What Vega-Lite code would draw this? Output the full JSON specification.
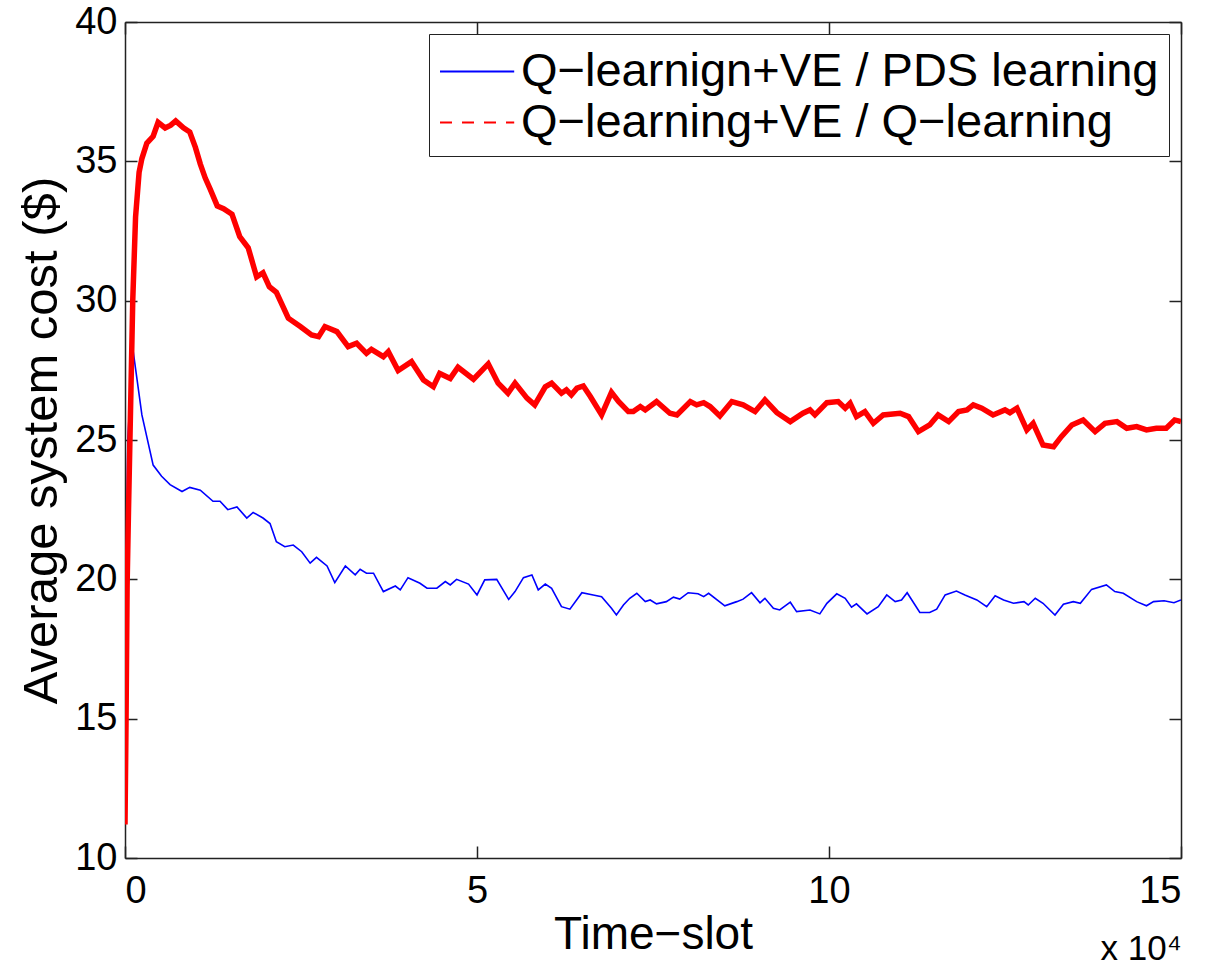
{
  "$schema": "https://vega.github.io/schema/vega-lite/v6.json",
  "width": 1056,
  "height": 836,
  "autosize": {"type": "none"},
  "padding": {"left": 125, "top": 22, "right": 26, "bottom": 108},
  "background": "white",
  "config": {
    "font": "Liberation Sans",
    "view": {"stroke": null},
    "axis": {"grid": false, "labelFont": "Liberation Sans", "titleFont": "Liberation Sans", "labelColor": "black", "titleColor": "black", "domainColor": "#222", "tickColor": "#222", "domainWidth": 1.5, "tickWidth": 1.5, "titleFontWeight": "normal"},
    "legend": {"labelFont": "Liberation Sans"}
  },
  "title": {"text": "x 10⁴", "orient": "bottom", "anchor": "end", "fontSize": 35, "fontWeight": "normal", "font": "Liberation Sans", "color": "black", "offset": -25},
  "data": {"name": "d", "values": [
    {"series":"blue","t":0,"cost":16},{"series":"blue","t":0.04,"cost":25},{"series":"blue","t":0.11,"cost":28.3},{"series":"blue","t":0.24,"cost":25.9},{"series":"blue","t":0.40,"cost":24.1},{"series":"blue","t":0.52,"cost":23.7},{"series":"blue","t":0.64,"cost":23.4},{"series":"blue","t":0.81,"cost":23.15},{"series":"blue","t":0.92,"cost":23.3},{"series":"blue","t":1.07,"cost":23.2},{"series":"blue","t":1.25,"cost":22.8},{"series":"blue","t":1.35,"cost":22.8},{"series":"blue","t":1.46,"cost":22.5},{"series":"blue","t":1.59,"cost":22.6},{"series":"blue","t":1.73,"cost":22.2},{"series":"blue","t":1.82,"cost":22.4},{"series":"blue","t":1.96,"cost":22.2},{"series":"blue","t":2.06,"cost":22.0},{"series":"blue","t":2.15,"cost":21.35},{"series":"blue","t":2.27,"cost":21.17},{"series":"blue","t":2.39,"cost":21.23},{"series":"blue","t":2.51,"cost":20.99},{"series":"blue","t":2.63,"cost":20.58},{"series":"blue","t":2.72,"cost":20.79},{"series":"blue","t":2.87,"cost":20.48},{"series":"blue","t":2.98,"cost":19.88},{"series":"blue","t":3.13,"cost":20.48},{"series":"blue","t":3.27,"cost":20.16},{"series":"blue","t":3.34,"cost":20.36},{"series":"blue","t":3.43,"cost":20.22},{"series":"blue","t":3.53,"cost":20.22},{"series":"blue","t":3.67,"cost":19.56},{"series":"blue","t":3.84,"cost":19.76},{"series":"blue","t":3.91,"cost":19.62},{"series":"blue","t":4.02,"cost":20.06},{"series":"blue","t":4.19,"cost":19.86},{"series":"blue","t":4.29,"cost":19.68},{"series":"blue","t":4.43,"cost":19.68},{"series":"blue","t":4.55,"cost":19.92},{"series":"blue","t":4.62,"cost":19.80},{"series":"blue","t":4.71,"cost":20.00},{"series":"blue","t":4.88,"cost":19.83},{"series":"blue","t":5.00,"cost":19.44},{"series":"blue","t":5.11,"cost":19.98},{"series":"blue","t":5.28,"cost":20.00},{"series":"blue","t":5.45,"cost":19.28},{"series":"blue","t":5.54,"cost":19.56},{"series":"blue","t":5.66,"cost":20.06},{"series":"blue","t":5.78,"cost":20.16},{"series":"blue","t":5.87,"cost":19.62},{"series":"blue","t":5.97,"cost":19.83},{"series":"blue","t":6.06,"cost":19.68},{"series":"blue","t":6.20,"cost":19.02},{"series":"blue","t":6.32,"cost":18.93},{"series":"blue","t":6.49,"cost":19.52},{"series":"blue","t":6.65,"cost":19.44},{"series":"blue","t":6.77,"cost":19.38},{"series":"blue","t":6.91,"cost":18.96},{"series":"blue","t":6.98,"cost":18.72},{"series":"blue","t":7.08,"cost":19.08},{"series":"blue","t":7.17,"cost":19.32},{"series":"blue","t":7.27,"cost":19.50},{"series":"blue","t":7.39,"cost":19.20},{"series":"blue","t":7.46,"cost":19.26},{"series":"blue","t":7.55,"cost":19.12},{"series":"blue","t":7.69,"cost":19.20},{"series":"blue","t":7.79,"cost":19.36},{"series":"blue","t":7.88,"cost":19.29},{"series":"blue","t":8.00,"cost":19.52},{"series":"blue","t":8.14,"cost":19.48},{"series":"blue","t":8.22,"cost":19.38},{"series":"blue","t":8.29,"cost":19.50},{"series":"blue","t":8.52,"cost":19.05},{"series":"blue","t":8.69,"cost":19.20},{"series":"blue","t":8.78,"cost":19.29},{"series":"blue","t":8.90,"cost":19.52},{"series":"blue","t":9.02,"cost":19.16},{"series":"blue","t":9.09,"cost":19.32},{"series":"blue","t":9.21,"cost":18.96},{"series":"blue","t":9.30,"cost":18.90},{"series":"blue","t":9.45,"cost":19.18},{"series":"blue","t":9.54,"cost":18.84},{"series":"blue","t":9.73,"cost":18.90},{"series":"blue","t":9.87,"cost":18.76},{"series":"blue","t":9.97,"cost":19.14},{"series":"blue","t":10.11,"cost":19.48},{"series":"blue","t":10.23,"cost":19.32},{"series":"blue","t":10.32,"cost":19.00},{"series":"blue","t":10.39,"cost":19.12},{"series":"blue","t":10.54,"cost":18.76},{"series":"blue","t":10.70,"cost":19.02},{"series":"blue","t":10.82,"cost":19.44},{"series":"blue","t":10.94,"cost":19.20},{"series":"blue","t":11.03,"cost":19.26},{"series":"blue","t":11.11,"cost":19.52},{"series":"blue","t":11.29,"cost":18.81},{"series":"blue","t":11.43,"cost":18.81},{"series":"blue","t":11.53,"cost":18.93},{"series":"blue","t":11.65,"cost":19.44},{"series":"blue","t":11.81,"cost":19.58},{"series":"blue","t":11.93,"cost":19.44},{"series":"blue","t":12.10,"cost":19.26},{"series":"blue","t":12.24,"cost":19.02},{"series":"blue","t":12.36,"cost":19.41},{"series":"blue","t":12.48,"cost":19.26},{"series":"blue","t":12.62,"cost":19.14},{"series":"blue","t":12.77,"cost":19.20},{"series":"blue","t":12.83,"cost":19.08},{"series":"blue","t":12.93,"cost":19.32},{"series":"blue","t":13.04,"cost":19.14},{"series":"blue","t":13.21,"cost":18.72},{"series":"blue","t":13.33,"cost":19.11},{"series":"blue","t":13.47,"cost":19.20},{"series":"blue","t":13.57,"cost":19.14},{"series":"blue","t":13.73,"cost":19.64},{"series":"blue","t":13.94,"cost":19.80},{"series":"blue","t":14.06,"cost":19.56},{"series":"blue","t":14.18,"cost":19.50},{"series":"blue","t":14.37,"cost":19.20},{"series":"blue","t":14.51,"cost":19.05},{"series":"blue","t":14.61,"cost":19.20},{"series":"blue","t":14.76,"cost":19.23},{"series":"blue","t":14.90,"cost":19.16},{"series":"blue","t":15.0,"cost":19.26},
    {"series":"red","t":0,"cost":11.2},{"series":"red","t":0.015,"cost":15},{"series":"red","t":0.03,"cost":19.8},{"series":"red","t":0.05,"cost":22.5},{"series":"red","t":0.07,"cost":25},{"series":"red","t":0.09,"cost":27.5},{"series":"red","t":0.11,"cost":30},{"series":"red","t":0.15,"cost":33},{"series":"red","t":0.2,"cost":34.6},{"series":"red","t":0.24,"cost":35.1},{"series":"red","t":0.31,"cost":35.65},{"series":"red","t":0.40,"cost":35.9},{"series":"red","t":0.47,"cost":36.4},{"series":"red","t":0.57,"cost":36.2},{"series":"red","t":0.65,"cost":36.3},{"series":"red","t":0.72,"cost":36.45},{"series":"red","t":0.83,"cost":36.2},{"series":"red","t":0.92,"cost":36.05},{"series":"red","t":1.0,"cost":35.5},{"series":"red","t":1.07,"cost":34.9},{"series":"red","t":1.14,"cost":34.4},{"series":"red","t":1.21,"cost":34.0},{"series":"red","t":1.31,"cost":33.4},{"series":"red","t":1.4,"cost":33.3},{"series":"red","t":1.52,"cost":33.1},{"series":"red","t":1.63,"cost":32.3},{"series":"red","t":1.75,"cost":31.9},{"series":"red","t":1.87,"cost":30.85},{"series":"red","t":1.96,"cost":31.0},{"series":"red","t":2.05,"cost":30.5},{"series":"red","t":2.15,"cost":30.3},{"series":"red","t":2.32,"cost":29.37},{"series":"red","t":2.49,"cost":29.07},{"series":"red","t":2.65,"cost":28.77},{"series":"red","t":2.75,"cost":28.71},{"series":"red","t":2.84,"cost":29.07},{"series":"red","t":3.01,"cost":28.89},{"series":"red","t":3.17,"cost":28.35},{"series":"red","t":3.29,"cost":28.47},{"series":"red","t":3.43,"cost":28.11},{"series":"red","t":3.50,"cost":28.25},{"series":"red","t":3.67,"cost":27.99},{"series":"red","t":3.74,"cost":28.17},{"series":"red","t":3.88,"cost":27.49},{"series":"red","t":4.07,"cost":27.81},{"series":"red","t":4.24,"cost":27.15},{"series":"red","t":4.38,"cost":26.91},{"series":"red","t":4.47,"cost":27.39},{"series":"red","t":4.62,"cost":27.21},{"series":"red","t":4.73,"cost":27.61},{"series":"red","t":4.95,"cost":27.18},{"series":"red","t":5.16,"cost":27.73},{"series":"red","t":5.30,"cost":27.04},{"series":"red","t":5.44,"cost":26.68},{"series":"red","t":5.54,"cost":27.04},{"series":"red","t":5.71,"cost":26.50},{"series":"red","t":5.82,"cost":26.26},{"series":"red","t":5.97,"cost":26.91},{"series":"red","t":6.06,"cost":27.04},{"series":"red","t":6.20,"cost":26.68},{"series":"red","t":6.27,"cost":26.80},{"series":"red","t":6.34,"cost":26.62},{"series":"red","t":6.42,"cost":26.86},{"series":"red","t":6.51,"cost":26.94},{"series":"red","t":6.61,"cost":26.56},{"series":"red","t":6.77,"cost":25.90},{"series":"red","t":6.91,"cost":26.71},{"series":"red","t":7.01,"cost":26.38},{"series":"red","t":7.15,"cost":26.02},{"series":"red","t":7.22,"cost":26.02},{"series":"red","t":7.32,"cost":26.20},{"series":"red","t":7.39,"cost":26.08},{"series":"red","t":7.55,"cost":26.38},{"series":"red","t":7.74,"cost":25.96},{"series":"red","t":7.84,"cost":25.90},{"series":"red","t":8.03,"cost":26.38},{"series":"red","t":8.12,"cost":26.26},{"series":"red","t":8.22,"cost":26.34},{"series":"red","t":8.31,"cost":26.20},{"series":"red","t":8.45,"cost":25.86},{"series":"red","t":8.62,"cost":26.38},{"series":"red","t":8.78,"cost":26.26},{"series":"red","t":8.95,"cost":26.02},{"series":"red","t":9.09,"cost":26.44},{"series":"red","t":9.26,"cost":25.98},{"series":"red","t":9.45,"cost":25.66},{"series":"red","t":9.63,"cost":25.96},{"series":"red","t":9.73,"cost":26.08},{"series":"red","t":9.80,"cost":25.90},{"series":"red","t":9.97,"cost":26.34},{"series":"red","t":10.13,"cost":26.38},{"series":"red","t":10.23,"cost":26.14},{"series":"red","t":10.30,"cost":26.32},{"series":"red","t":10.39,"cost":25.84},{"series":"red","t":10.51,"cost":26.02},{"series":"red","t":10.63,"cost":25.60},{"series":"red","t":10.77,"cost":25.90},{"series":"red","t":11.01,"cost":25.96},{"series":"red","t":11.13,"cost":25.84},{"series":"red","t":11.27,"cost":25.30},{"series":"red","t":11.43,"cost":25.54},{"series":"red","t":11.55,"cost":25.90},{"series":"red","t":11.70,"cost":25.66},{"series":"red","t":11.84,"cost":26.02},{"series":"red","t":11.96,"cost":26.08},{"series":"red","t":12.05,"cost":26.26},{"series":"red","t":12.17,"cost":26.14},{"series":"red","t":12.33,"cost":25.90},{"series":"red","t":12.50,"cost":26.08},{"series":"red","t":12.57,"cost":25.98},{"series":"red","t":12.67,"cost":26.14},{"series":"red","t":12.81,"cost":25.36},{"series":"red","t":12.90,"cost":25.60},{"series":"red","t":13.04,"cost":24.82},{"series":"red","t":13.19,"cost":24.76},{"series":"red","t":13.30,"cost":25.12},{"series":"red","t":13.45,"cost":25.54},{"series":"red","t":13.61,"cost":25.72},{"series":"red","t":13.78,"cost":25.30},{"series":"red","t":13.92,"cost":25.60},{"series":"red","t":14.09,"cost":25.66},{"series":"red","t":14.23,"cost":25.42},{"series":"red","t":14.37,"cost":25.48},{"series":"red","t":14.51,"cost":25.36},{"series":"red","t":14.65,"cost":25.42},{"series":"red","t":14.79,"cost":25.42},{"series":"red","t":14.91,"cost":25.72},{"series":"red","t":15.0,"cost":25.66}
  ]},
  "transform": [
    {"lookup": "series", "from": {"data": {"values": [{"series": "blue", "name": "Q−learnign+VE / PDS learning"}, {"series": "red", "name": "Q−learning+VE / Q−learning"}]}, "key": "series", "fields": ["name"]}}
  ],
  "layer": [
    {
      "transform": [{"filter": "datum.series === 'blue'"}],
      "mark": {"type": "line", "strokeWidth": 1.6, "clip": true},
      "encoding": {
        "x": {"field": "t", "type": "quantitative", "scale": {"domain": [0, 15], "nice": false}, "axis": {"orient": "bottom", "values": [0, 5, 10, 15], "tickSize": -12, "labelPadding": 26, "labelFontSize": 38, "title": "Time−slot", "titleFontSize": 46, "titlePadding": 2}},
        "y": {"field": "cost", "type": "quantitative", "scale": {"domain": [10, 40], "nice": false, "zero": false}, "axis": {"orient": "left", "values": [10, 15, 20, 25, 30, 35, 40], "tickSize": -12, "labelPadding": 20, "labelFontSize": 38, "title": "Average system cost ($)", "titleFontSize": 49, "titlePadding": 8}},
        "color": {"field": "name", "type": "nominal", "sort": ["Q−learnign+VE / PDS learning", "Q−learning+VE / Q−learning"], "scale": {"domain": ["Q−learnign+VE / PDS learning", "Q−learning+VE / Q−learning"], "range": ["#0000ff", "#ff0000"]},
          "legend": {"title": null, "orient": "top-right", "offset": 12, "labelFontSize": 47, "labelLimit": 1000, "symbolType": "M-1,0H1.8", "symbolSize": 2809, "symbolStrokeWidth": 2, "strokeColor": "#222", "fillColor": "white", "padding": 10, "rowPadding": 0, "labelOffset": 27,
            "encode": {"symbols": {"update": {"strokeDash": {"signal": "datum.value === 'Q−learning+VE / Q−learning' ? [12, 10] : []"}}}}}}
      }
    },
    {
      "transform": [{"filter": "datum.series === 'red'"}],
      "mark": {"type": "line", "strokeWidth": 5.5, "clip": true},
      "encoding": {
        "x": {"field": "t", "type": "quantitative", "axis": {"orient": "top", "values": [0, 5, 10, 15], "tickSize": -12, "labels": false, "title": null}},
        "y": {"field": "cost", "type": "quantitative", "axis": {"orient": "right", "values": [10, 15, 20, 25, 30, 35, 40], "tickSize": -12, "labels": false, "title": null}},
        "color": {"field": "name", "type": "nominal"}
      }
    }
  ],
  "resolve": {"axis": {"x": "independent", "y": "independent"}}
}
